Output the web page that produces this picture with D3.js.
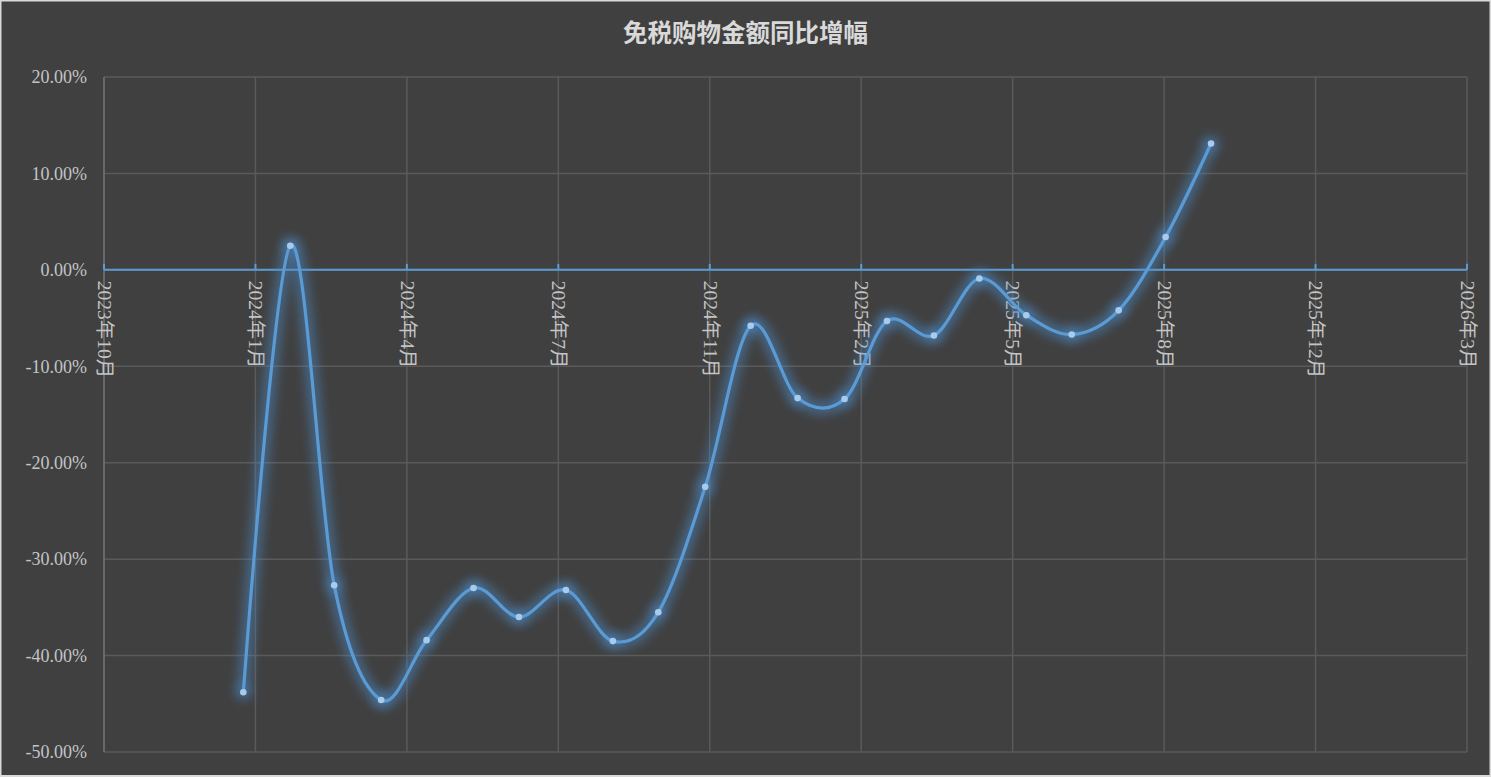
<!DOCTYPE html>
<html>
<head>
<meta charset="utf-8">
<title>免税购物金额同比增幅</title>
<script src="https://cdn.jsdelivr.net/npm/d3@7"></script>
<style>
  html, body { margin: 0; padding: 0; background: #d9d9d9; }
  svg { display: block; }
</style>
</head>
<body>
<svg width="1491" height="777"></svg>
<script>
var months = ["2024-01", "2024-02", "2024-03", "2024-04", "2024-05", "2024-06",
              "2024-07", "2024-08", "2024-09", "2024-10", "2024-11", "2024-12",
              "2025-01", "2025-02", "2025-03", "2025-04", "2025-05", "2025-06",
              "2025-07", "2025-08", "2025-09", "2025-10"];
var values = [-43.8, 2.5, -32.7, -44.6, -38.4, -33.0,
              -36.0, -33.2, -38.5, -35.5, -22.5, -5.8,
              -13.3, -13.4, -5.3, -6.8, -0.9, -4.7,
              -6.7, -4.2, 3.4, 13.1];
var yTicks = [20, 10, 0, -10, -20, -30, -40, -50];
var axisStart = "2023-10-01";   // excel date axis, major unit 100 days
var majorDays = 100;
var tickCount = 10;

var svg = d3.select("svg"),
    width = +svg.attr("width"),
    height = +svg.attr("height");

var plotLeft = 104, plotRight = 1467, plotTop = 77, plotBottom = 752;

svg.append("rect")
    .attr("x", 1.5).attr("y", 1.5)
    .attr("width", width - 3).attr("height", height - 3.5)
    .attr("fill", "#404040");

var parse = d3.utcParse("%Y-%m-%d");
var t0 = parse(axisStart);
var tickDates = d3.range(tickCount).map(function(i) { return d3.utcDay.offset(t0, i * majorDays); });

var x = d3.scaleUtc()
    .domain([tickDates[0], tickDates[tickDates.length - 1]])
    .range([plotLeft, plotRight]);
var y = d3.scaleLinear()
    .domain([-50, 20])
    .range([plotBottom, plotTop]);

var data = months.map(function(m, i) { return { date: parse(m + "-01"), value: values[i] }; });

var defs = svg.append("defs");
var glow = defs.append("filter")
    .attr("id", "glow")
    .attr("x", "-50%").attr("y", "-50%")
    .attr("width", "200%").attr("height", "200%");
glow.append("feGaussianBlur").attr("stdDeviation", 5.5);

// grid
var grid = svg.append("g");
grid.selectAll(".hg")
    .data(yTicks)
    .enter().append("line")
    .attr("x1", plotLeft).attr("x2", plotRight)
    .attr("y1", function(d) { return y(d); })
    .attr("y2", function(d) { return y(d); })
    .attr("stroke", "#5a5a5a")
    .attr("stroke-width", 1.5);
grid.selectAll(".vg")
    .data(tickDates.slice(1))
    .enter().append("line")
    .attr("x1", function(d) { return x(d); })
    .attr("x2", function(d) { return x(d); })
    .attr("y1", plotTop).attr("y2", plotBottom)
    .attr("stroke", "#5a5a5a")
    .attr("stroke-width", 1.5);
grid.append("line")
    .attr("x1", plotLeft).attr("x2", plotLeft)
    .attr("y1", plotTop).attr("y2", plotBottom)
    .attr("stroke", "#767676")
    .attr("stroke-width", 1.5);

// y labels
svg.append("g")
  .selectAll("text")
  .data(yTicks)
  .enter().append("text")
    .attr("x", plotLeft - 17)
    .attr("y", function(d) { return y(d); })
    .attr("dy", "0.35em")
    .attr("text-anchor", "end")
    .attr("fill", "#c4c4c4")
    .attr("font-family", "'Liberation Serif', 'Times New Roman', serif")
    .attr("font-size", 18)
    .text(function(d) { return d.toFixed(2) + "%"; });

// zero axis with ticks upward
var xAxis = svg.append("g");
xAxis.append("line")
    .attr("x1", plotLeft).attr("x2", plotRight)
    .attr("y1", y(0)).attr("y2", y(0))
    .attr("stroke", "#5b9bd5")
    .attr("stroke-width", 2);
xAxis.selectAll(".tk")
    .data(tickDates)
    .enter().append("line")
    .attr("x1", function(d) { return x(d); })
    .attr("x2", function(d) { return x(d); })
    .attr("y1", y(0) - 6).attr("y2", y(0))
    .attr("stroke", "#5b9bd5")
    .attr("stroke-width", 2);

var fmt = d3.utcFormat("%Y年%-m月");
xAxis.selectAll("text")
    .data(tickDates)
    .enter().append("text")
    .attr("transform", function(d) { return "translate(" + x(d) + "," + (y(0) + 11) + ") rotate(90)"; })
    .attr("dy", "0.32em")
    .attr("text-anchor", "start")
    .attr("fill", "#c4c4c4")
    .attr("font-family", "'Liberation Serif', 'Times New Roman', 'Noto Sans CJK SC', serif")
    .attr("font-size", 19.5)
    .text(function(d) { return fmt(d); });

// series
var line = d3.line()
    .x(function(d) { return x(d.date); })
    .y(function(d) { return y(d.value); })
    .curve(d3.curveCardinal.tension(0));

var series = svg.append("g");
series.append("path")
    .datum(data)
    .attr("fill", "none")
    .attr("stroke", "#4a8ccc")
    .attr("stroke-opacity", 0.55)
    .attr("stroke-width", 12)
    .attr("filter", "url(#glow)")
    .attr("d", line);
series.selectAll(".mg")
    .data(data)
    .enter().append("circle")
    .attr("cx", function(d) { return x(d.date); })
    .attr("cy", function(d) { return y(d.value); })
    .attr("r", 8)
    .attr("fill", "#4a8ccc")
    .attr("fill-opacity", 0.5)
    .attr("filter", "url(#glow)");
series.append("path")
    .datum(data)
    .attr("fill", "none")
    .attr("stroke", "#5b9bd5")
    .attr("stroke-width", 3.2)
    .attr("stroke-linecap", "round")
    .attr("d", line);
series.selectAll(".mk")
    .data(data)
    .enter().append("circle")
    .attr("cx", function(d) { return x(d.date); })
    .attr("cy", function(d) { return y(d.value); })
    .attr("r", 3.3)
    .attr("fill", "#a8cbec");

// title
svg.append("text")
    .attr("x", width / 2)
    .attr("y", 33)
    .attr("dy", "0.35em")
    .attr("text-anchor", "middle")
    .attr("fill", "#d9d9d9")
    .attr("font-family", "'Noto Sans CJK SC', sans-serif")
    .attr("font-weight", "bold")
    .attr("font-size", 24.5)
    .text("免税购物金额同比增幅");
</script>
</body>
</html>
